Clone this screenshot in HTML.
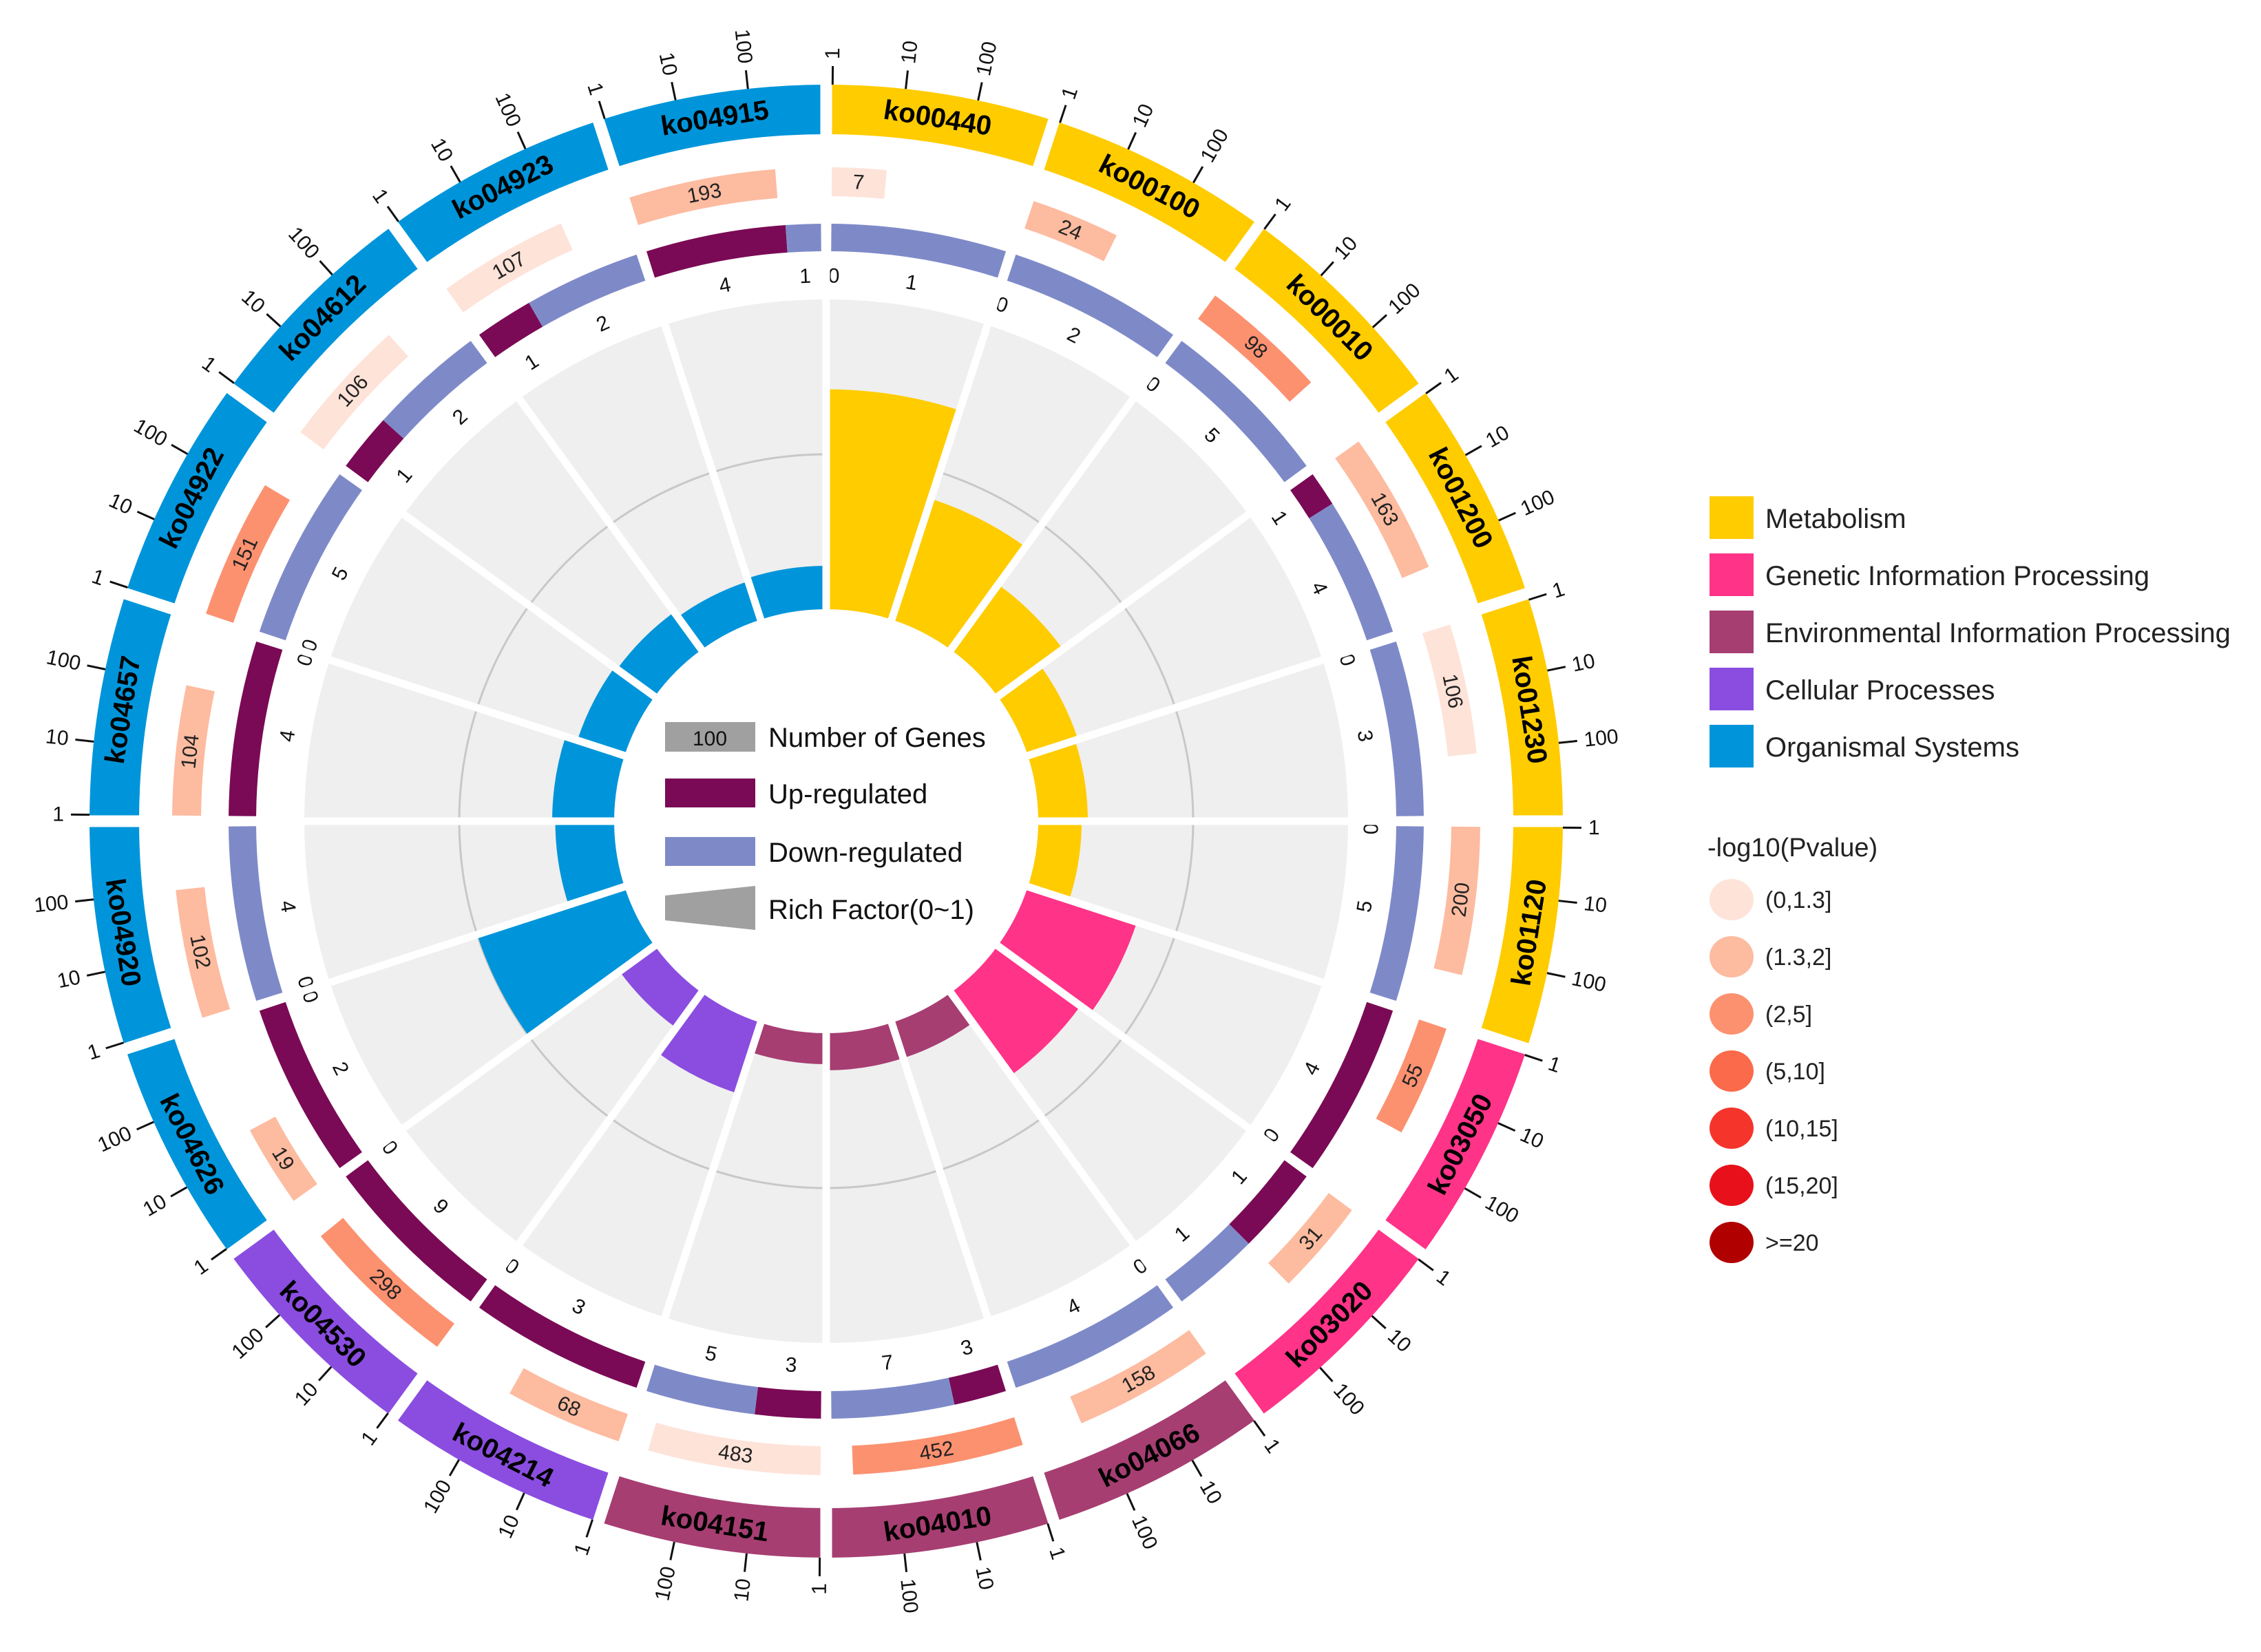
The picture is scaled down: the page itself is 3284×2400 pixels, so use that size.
<!DOCTYPE html>
<html><head><meta charset="utf-8"><style>
html,body{margin:0;padding:0;background:#fff;}
svg{display:block;font-family:"Liberation Sans",sans-serif;}
</style></head><body>
<svg id="chart" width="3284" height="2400" viewBox="0 0 3284 2400" xmlns="http://www.w3.org/2000/svg">
<rect width="3284" height="2400" fill="#fff"/>
<g id="rings"></g>
<g id="center-legend">
  <rect x="966" y="1049" width="131" height="43" fill="#a0a0a0"/>
  <text x="1031" y="1083" font-size="30" text-anchor="middle" fill="#111">100</text>
  <text x="1116" y="1085" font-size="40" fill="#111">Number of Genes</text>
  <rect x="966" y="1131" width="131" height="42" fill="#7a0a55"/>
  <text x="1116" y="1167" font-size="40" fill="#111">Up-regulated</text>
  <rect x="966" y="1216" width="131" height="42" fill="#7e8ac8"/>
  <text x="1116" y="1252" font-size="40" fill="#111">Down-regulated</text>
  <polygon points="966,1301 1097,1287 1097,1351 966,1337" fill="#a0a0a0"/>
  <text x="1116" y="1335" font-size="40" fill="#111">Rich Factor(0~1)</text>
</g>
<g id="right-legend"></g>
</svg>
<script>
const categories=["ko00440","ko00100","ko00010","ko01200","ko01230","ko01120","ko03050","ko03020","ko04066","ko04010","ko04151","ko04214","ko04530","ko04626","ko04920","ko04657","ko04922","ko04612","ko04923","ko04915"];
const groupIndex=[0,0,0,0,0,0,1,1,2,2,2,3,3,4,4,4,4,4,4,4];
const richFactor=[0.71,0.41,0.26,0.17,0.16,0.14,0.37,0.33,0.12,0.12,0.10,0.24,0.14,0.50,0.19,0.20,0.16,0.15,0.13,0.14];
const geneCount=[7,24,98,163,106,200,55,31,158,452,483,68,298,19,102,104,151,106,107,193];
const pClass=[0,1,2,1,0,1,2,1,1,2,0,1,2,1,1,1,2,0,0,1];
const upCount=[0,0,0,1,0,0,4,1,0,3,3,3,9,2,0,4,0,1,1,4];
const downCount=[1,2,5,4,3,5,0,1,4,7,5,0,0,0,4,0,5,2,2,1];
const groupNames=["Metabolism","Genetic Information Processing","Environmental Information Processing","Cellular Processes","Organismal Systems"];
const groupColors=["#ffcc00","#ff3388","#a63e72","#8a4de0","#0095da"];
const pLabels=["(0,1.3]","(1.3,2]","(2,5]","(5,10]","(10,15]","(15,20]",">=20"];
const pColors=["#fee3d9","#fdbba0","#fc9170","#fb6a4a","#f5352b","#e8101a","#b10000"];
const tickValues=[1,10,100];

const NS="http://www.w3.org/2000/svg";
const cx=1200,cy=1193;
const SEC=360/categories.length, PAD=0.5, DEC=5.7;
const R_HOLE=308,R_GRAY=758,R_UD0=828,R_UD1=868,R_G0=908,R_G1=950,R_O0=998,R_O1=1070;
const rings=document.getElementById('rings');
function pt(r,a){const t=a*Math.PI/180;return [cx+r*Math.sin(t),cy-r*Math.cos(t)];}
function arcPath(r0,r1,a0,a1){
  const [x0,y0]=pt(r1,a0),[x1,y1]=pt(r1,a1),[x2,y2]=pt(r0,a1),[x3,y3]=pt(r0,a0);
  const lg=(a1-a0)>180?1:0;
  return `M${x0},${y0}A${r1},${r1} 0 ${lg} 1 ${x1},${y1}L${x2},${y2}A${r0},${r0} 0 ${lg} 0 ${x3},${y3}Z`;
}
function mk(tag,attrs,parent){const e=document.createElementNS(NS,tag);for(const k in attrs)e.setAttribute(k,attrs[k]);(parent||rings).appendChild(e);return e;}
function rScale(v){return R_HOLE+v*(R_GRAY-R_HOLE);}
function tangRot(a){a=((a%360)+360)%360;return (a>90&&a<270)?a-180:a;}
function txt(s,x,y,size,rot,opts,parent){
  const e=mk('text',Object.assign({x:x,y:y,'font-size':size,'text-anchor':'middle','dominant-baseline':'central',fill:'#111',transform:`rotate(${rot} ${x} ${y})`},opts||{}),parent);
  e.textContent=s;return e;
}
// gray sectors + gridlines
categories.forEach((c,i)=>{
  const a0=i*SEC,a1=a0+SEC;
  const g=mk('path',{d:arcPath(R_HOLE,R_GRAY,a0,a1),fill:'#efefef'});
  
  
});
[0.5].forEach(v=>{
  const c=mk('circle',{cx:cx,cy:cy,r:rScale(v),fill:'none',stroke:'#c8c8c8','stroke-width':3});
  
  
});
categories.forEach((c,i)=>{
  const a0=i*SEC,a1=a0+SEC,col=groupColors[groupIndex[i]];
  // rich factor bar
  const b=mk('path',{d:arcPath(R_HOLE,rScale(richFactor[i]),a0,a1),fill:col});
  
  
  // up/down
  const s0=a0+PAD,s1=a1-PAD,tot=upCount[i]+downCount[i];
  const mid=s0+(s1-s0)*upCount[i]/tot;
  if(upCount[i]>0){
    const u=mk('path',{d:arcPath(R_UD0,R_UD1,s0,mid),fill:'#7a0a55'});
    
    
  }
  if(downCount[i]>0){
    const d=mk('path',{d:arcPath(R_UD0,R_UD1,mid,s1),fill:'#7e8ac8'});
    
    
  }
  const ua=upCount[i]>0?(s0+mid)/2:s0+0.3, da=downCount[i]>0?(mid+s1)/2:s1-0.3;
  let p=pt(792,ua);
  const ul=txt(String(upCount[i]),p[0],p[1],30,tangRot(ua));
  
  
  p=pt(792,da);
  const dl=txt(String(downCount[i]),p[0],p[1],30,tangRot(da));
  
  
  // gene count bar (log scale)
  const ge=s0+Math.log10(geneCount[i])*DEC;
  const gb=mk('path',{d:arcPath(R_G0,R_G1,s0,ge),fill:pColors[pClass[i]]});
  
  
  const gm=(s0+ge)/2;p=pt((R_G0+R_G1)/2,gm);
  const gl=txt(String(geneCount[i]),p[0],p[1],30,tangRot(gm),{fill:'#222'});
  
  
  // outer category ring
  const ob=mk('path',{d:arcPath(R_O0,R_O1,a0,a1),fill:col});
  
  
  const am=(a0+a1)/2;p=pt((R_O0+R_O1)/2,am);
  const ol=txt(c,p[0],p[1],40,tangRot(am),{'font-weight':'bold',fill:'#000'});
  
  
});
// white gaps
categories.forEach((c,i)=>{
  const a=i*SEC;
  let [x0,y0]=pt(R_HOLE-5,a),[x1,y1]=pt(R_UD1+5,a);
  const w1=mk('line',{x1:x0,y1:y0,x2:x1,y2:y1,stroke:'#fff','stroke-width':11});
  
  
  [x0,y0]=pt(R_O0-5,a);[x1,y1]=pt(R_O1+5,a);
  const w2=mk('line',{x1:x0,y1:y0,x2:x1,y2:y1,stroke:'#fff','stroke-width':17});
  
  
});
// ticks
categories.forEach((c,i)=>{
  const s0=i*SEC+PAD;
  tickValues.forEach(v=>{
    const a=s0+Math.log10(v)*DEC;
    const [x0,y0]=pt(R_O1,a),[x1,y1]=pt(R_O1+27,a);
    const t=mk('line',{x1:x0,y1:y0,x2:x1,y2:y1,stroke:'#111','stroke-width':3});
    
    
    const [lx,ly]=pt(R_O1+37,a);
    const left=((a%360)+360)%360>180;
    const lb=txt(String(v),lx,ly,30,left?a+90:a-90,{'text-anchor':left?'end':'start'});
    
    
  });
});
// right legend
const RL=document.getElementById('right-legend');
groupNames.forEach((n,i)=>{
  const y=721+i*83;
  const r=mk('rect',{x:2483,y:y,width:64,height:62,fill:groupColors[i]},RL);
  
  
  const t=mk('text',{x:2564,y:y+46,'font-size':40,fill:'#222'},RL);
  t.textContent=n;
  
  
});
const pt0=mk('text',{x:2480,y:1244,'font-size':38,fill:'#222'},RL);
pt0.textContent='-log10(Pvalue)';


pLabels.forEach((l,i)=>{
  const y=1307+i*83;
  const e=mk('ellipse',{cx:2515,cy:y,rx:32,ry:30,fill:pColors[i]},RL);
  
  
  const t=mk('text',{x:2564,y:y+12,'font-size':34,fill:'#222'},RL);
  t.textContent=l;
  
  
});
</script>
</body></html>
